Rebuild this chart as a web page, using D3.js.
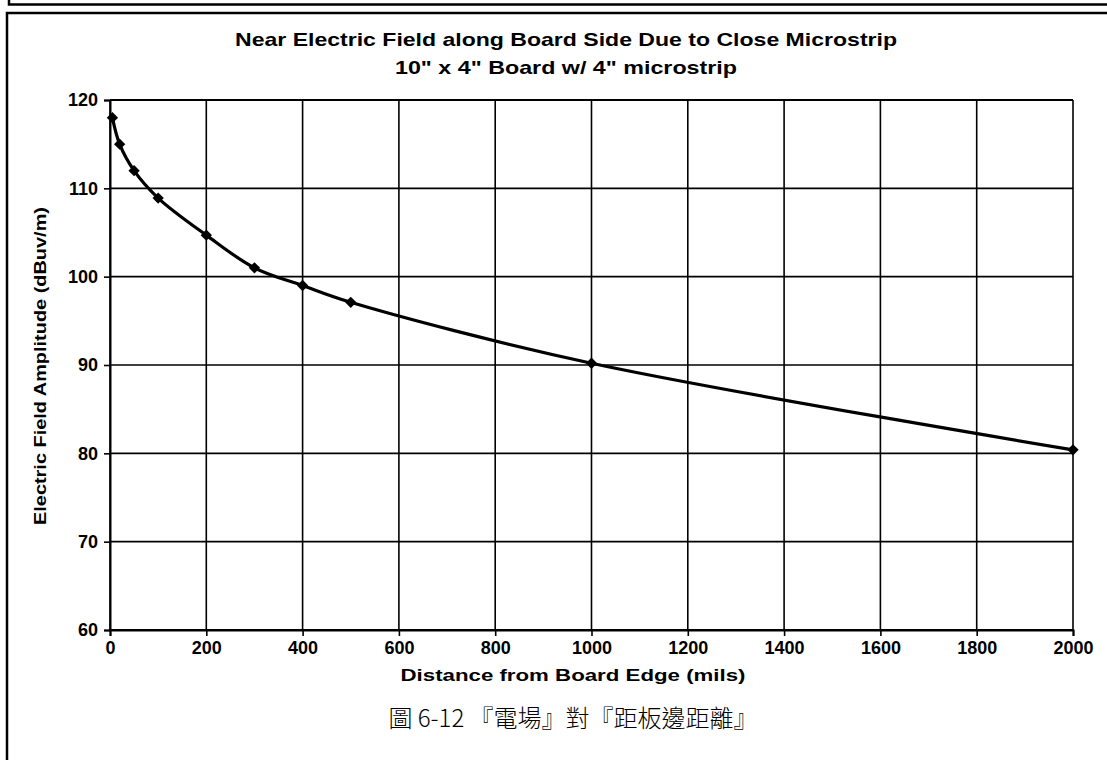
<!DOCTYPE html>
<head>
  <meta charset="utf-8">
  <script src="https://d3js.org/d3.v7.min.js"></script>
  <style>
    body { margin: 0; background: #fff; }
    text { font-family: "Liberation Sans", Arial, sans-serif; fill: #000; }
  </style>
</head>
<body>
  <svg width="1107" height="760"></svg>
  <script>
    // distance from board edge (mils) and field amplitude (dBuV/m)
    const distance = [5, 20, 50, 100, 200, 300, 400, 500, 1000, 2000];
    const field = [118.0, 115.0, 112.0, 108.9, 104.7, 101.0, 99.0, 97.1, 90.2, 80.4];
    const xTicks = [0, 200, 400, 600, 800, 1000, 1200, 1400, 1600, 1800, 2000];
    const yTicks = [60, 70, 80, 90, 100, 110, 120];

    const title1 = "Near Electric Field along Board Side Due to Close Microstrip";
    const title2 = "10\" x 4\" Board w/ 4\" microstrip";
    const xTitle = "Distance from Board Edge (mils)";
    const yTitle = "Electric Field Amplitude (dBuv/m)";
    const caption = "圖 6-12 『電場』對『距板邊距離』";

    const svg = d3.select("svg");
    const plotL = 110, plotR = 1073, plotT = 100, plotB = 630;

    // page frames
    svg.append("path")
      .attr("d", "M9,0 V4.5 H1107")
      .attr("fill", "none").attr("stroke", "#000").attr("stroke-width", 2.5);
    svg.append("path")
      .attr("d", "M7,760 V13 H1107")
      .attr("fill", "none").attr("stroke", "#000").attr("stroke-width", 2.5);

    const x = d3.scaleLinear().domain([0, 2000]).range([plotL, plotR]);
    const y = d3.scaleLinear().domain([60, 120]).range([plotB, plotT]);

    // grid
    svg.append("g").selectAll("line").data(xTicks).enter().append("line")
      .attr("x1", d => x(d)).attr("x2", d => x(d))
      .attr("y1", plotT).attr("y2", plotB)
      .attr("stroke", "#000").attr("stroke-width", 1.6);
    svg.append("g").selectAll("line").data(yTicks).enter().append("line")
      .attr("x1", plotL).attr("x2", plotR)
      .attr("y1", d => y(d)).attr("y2", d => y(d))
      .attr("stroke", "#000").attr("stroke-width", d => (d === 120 || d === 60) ? 2.2 : 1.6);

    // axes
    const xAxis = svg.append("g")
      .attr("transform", "translate(0," + plotB + ")")
      .call(d3.axisBottom(x).tickValues(xTicks).tickFormat(d3.format("d")).tickSize(6).tickPadding(5));
    const yAxis = svg.append("g")
      .attr("transform", "translate(" + plotL + ",0)")
      .call(d3.axisLeft(y).tickValues(yTicks).tickFormat(d3.format("d")).tickSize(6).tickPadding(6));
    [xAxis, yAxis].forEach(g => {
      g.attr("font-size", null).attr("font-family", null);
      g.select(".domain").attr("stroke", "#000").attr("stroke-width", 2);
      g.selectAll(".tick line").attr("stroke", "#000").attr("stroke-width", 1.6);
      g.selectAll(".tick text")
        .style("font-weight", "bold").style("font-size", "18px").attr("fill", "#000");
    });

    // smoothed curve
    const pts = distance.map((d, i) => [x(d), y(field[i])]);
    svg.append("path")
      .attr("d", d3.line().curve(d3.curveCatmullRom.alpha(0.5))(pts))
      .attr("fill", "none").attr("stroke", "#000").attr("stroke-width", 3.2);

    svg.append("g").selectAll("path").data(pts).enter().append("path")
      .attr("d", d3.symbol().type(d3.symbolSquare).size(64))
      .attr("transform", d => "translate(" + d[0] + "," + d[1] + ") rotate(45)")
      .attr("fill", "#000");

    // titles (scanned font is wide, so stretch to the measured widths)
    svg.append("text").attr("x", 566).attr("y", 46).attr("text-anchor", "middle")
      .attr("textLength", 662).attr("lengthAdjust", "spacingAndGlyphs")
      .style("font-weight", "bold").style("font-size", "19px").text(title1);
    svg.append("text").attr("x", 566).attr("y", 74).attr("text-anchor", "middle")
      .attr("textLength", 342).attr("lengthAdjust", "spacingAndGlyphs")
      .style("font-weight", "bold").style("font-size", "19px").text(title2);
    svg.append("text").attr("x", 573).attr("y", 681).attr("text-anchor", "middle")
      .attr("textLength", 345).attr("lengthAdjust", "spacingAndGlyphs")
      .style("font-weight", "bold").style("font-size", "17px").text(xTitle);
    svg.append("text").attr("transform", "translate(46,366) rotate(-90)")
      .attr("text-anchor", "middle")
      .attr("textLength", 318).attr("lengthAdjust", "spacingAndGlyphs")
      .style("font-weight", "bold").style("font-size", "17px").text(yTitle);
    svg.append("text").attr("x", 573).attr("y", 727).attr("text-anchor", "middle")
      .style("font-family", "'Noto Sans CJK TC', sans-serif").style("font-weight", "300")
      .style("font-size", "24px").text(caption);
  </script>
</body>
